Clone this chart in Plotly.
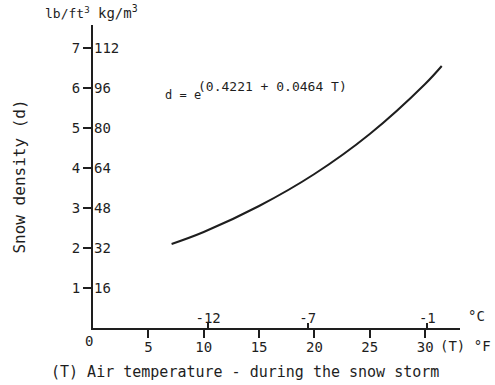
import plotly.graph_objects as go

# Data
temp_f = [7.1, 10, 15, 20, 25, 30, 31.5]          # air temperature, deg F
density_lb = [2.1, 2.4, 3.05, 3.85, 4.85, 6.1, 6.55]  # snow density, lb/ft3

y_ticks_lb = [1, 2, 3, 4, 5, 6, 7]
y_ticks_kg = ["16", "32", "48", "64", "80", "96", "112"]
x_ticks_f = [5, 10, 15, 20, 25, 30]
celsius_ticks = [-12, -7, -1]
celsius_pos = [c * 9 / 5 + 32 for c in celsius_ticks]

FONT = "DejaVu Sans Mono"
INK = "#1e1e1e"

fig = go.Figure()
fig.add_trace(go.Scatter(x=temp_f, y=density_lb, mode="lines",
                         line=dict(color=INK, width=2, shape="spline"),
                         hoverinfo="skip", showlegend=False))
# invisible trace binding the secondary axes
fig.add_trace(go.Scatter(x=temp_f, y=density_lb, mode="lines",
                         line=dict(width=0), opacity=0, xaxis="x2", yaxis="y2",
                         hoverinfo="skip", showlegend=False))

XR = [0, 33.15]
YR = [0, 7.575]

fig.update_layout(
    width=495, height=385,
    margin=dict(l=93, r=35, t=25, b=57),
    paper_bgcolor="white", plot_bgcolor="white",
    font=dict(family=FONT, size=14, color=INK),
    xaxis=dict(range=XR, showgrid=False, zeroline=False, showline=True,
               linecolor=INK, linewidth=2, ticks="outside", ticklen=8,
               tickwidth=2, tickcolor=INK, tickvals=x_ticks_f,
               ticklabelstandoff=-3, tickfont=dict(size=14)),
    yaxis=dict(range=YR, showgrid=False, zeroline=False, showline=True,
               linecolor=INK, linewidth=2, ticks="outside", ticklen=8,
               tickwidth=2, tickcolor=INK, tickvals=y_ticks_lb,
               tickfont=dict(size=14),
               title=dict(text="Snow density (d)", font=dict(size=16), standoff=42)),
    xaxis2=dict(range=XR, overlaying="x", anchor="free", position=0, side="top",
                showgrid=False, zeroline=False, showline=False,
                ticks="outside", ticklen=5, tickwidth=2, tickcolor=INK,
                tickvals=celsius_pos, ticktext=[str(c) for c in celsius_ticks],
                ticklabelstandoff=-6, tickfont=dict(size=14)),
    yaxis2=dict(range=YR, overlaying="y", anchor="free", position=0, side="right",
                showgrid=False, zeroline=False, showline=False, ticks="",
                tickvals=y_ticks_lb, ticktext=y_ticks_kg,
                tickfont=dict(size=14)),
    annotations=[
        dict(text="lb/ft<sup>3</sup>", xref="paper", yref="paper", x=0, y=1,
             xanchor="right", yanchor="bottom", xshift=-1, yshift=2,
             showarrow=False, font=dict(size=13)),
        dict(text="kg/m<sup>3</sup>", xref="paper", yref="paper", x=0, y=1,
             xanchor="left", yanchor="bottom", xshift=3, yshift=2,
             showarrow=False, font=dict(size=14)),
        dict(text="d = e", xref="x", yref="y",
             x=6.3, y=5.83, xanchor="left", yanchor="middle",
             showarrow=False, font=dict(size=12)),
        dict(text="(0.4221 + 0.0464 T)", xref="x", yref="y",
             x=9.3, y=6.03, xanchor="left", yanchor="middle",
             showarrow=False, font=dict(size=13)),
        dict(text="0", xref="paper", yref="paper", x=0, y=0,
             xanchor="center", yanchor="top", xshift=-4, yshift=-3,
             showarrow=False, font=dict(size=14)),
        dict(text="°C", xref="paper", yref="paper", x=1, y=0,
             xanchor="left", yanchor="bottom", xshift=6, yshift=2,
             showarrow=False, font=dict(size=14)),
        dict(text="(T) °F", xref="paper", yref="paper", x=1, y=0,
             xanchor="right", yanchor="top", xshift=33, yshift=-8,
             showarrow=False, font=dict(size=14)),
        dict(text="(T) Air temperature - during the snow storm",
             xref="paper", yref="paper", x=0.415, y=0,
             xanchor="center", yanchor="top", yshift=-33,
             showarrow=False, font=dict(size=15)),
    ],
)

fig.write_html("out.html")
